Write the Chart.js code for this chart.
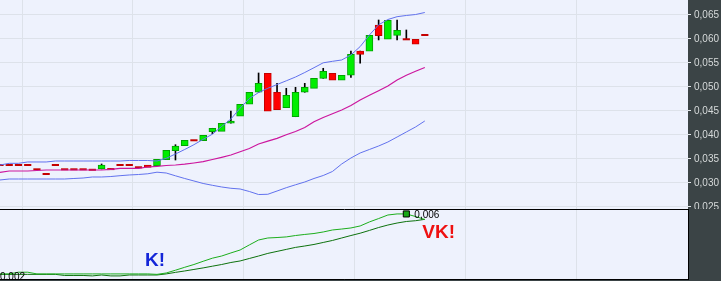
<!DOCTYPE html>
<html><head><meta charset="utf-8">
<script src="https://cdn.jsdelivr.net/npm/chart.js@4.4.0/dist/chart.umd.min.js"></script>
<style>
html,body{margin:0;padding:0;background:#3b4446;}
#wrap{position:relative;width:721px;height:281px;background:#3b4446;overflow:hidden;}
#top{position:absolute;left:0;top:0;width:721px;height:209px;}
#bot{position:absolute;left:0;top:209px;width:721px;height:72px;}
</style></head><body>
<div id="wrap"><canvas id="top" width="721" height="209"></canvas><canvas id="bot" width="721" height="72"></canvas></div>
<script>
// ---- data ----
const open  = [0.03375,0.03375,0.03375,0.03375,0.03285,0.03188,0.03375,0.03285,0.03285,0.03285,0.03275,0.03292,0.0329,0.03375,0.03375,0.03327,0.03375,0.0336,0.03486,0.03673,0.03777,0.0389,0.03881,0.04069,0.04077,0.04244,0.0439,0.0464,0.0489,0.05286,0.0489,0.04569,0.04381,0.0489,0.04973,0.05181,0.05286,0.0514,0.05244,0.0575,0.05744,0.06292,0.05994,0.06077,0.05994,0.05994,0.06083];
const high  = [0.03375,0.03375,0.03375,0.03375,0.03285,0.03188,0.03375,0.03285,0.03285,0.03285,0.03275,0.03396,0.0329,0.03375,0.03375,0.03327,0.03375,0.03494,0.03681,0.03798,0.03889,0.0389,0.03994,0.0414,0.04244,0.045,0.0464,0.0489,0.05292,0.05286,0.05077,0.04973,0.04994,0.05077,0.05181,0.0539,0.05286,0.05244,0.0575,0.0575,0.06077,0.06396,0.0639,0.06396,0.06188,0.05994,0.06083];
const low   = [0.03375,0.03375,0.03375,0.03375,0.03285,0.03188,0.03375,0.03285,0.03285,0.03285,0.03275,0.03292,0.0329,0.03375,0.03375,0.03327,0.03323,0.0336,0.03486,0.03479,0.03777,0.0389,0.03881,0.04027,0.04077,0.04244,0.0439,0.0464,0.0489,0.04494,0.04527,0.04569,0.04381,0.0489,0.04973,0.05181,0.0514,0.0514,0.052,0.05494,0.05744,0.0598,0.05994,0.0598,0.05994,0.0589,0.06083];
const close = [0.03375,0.03375,0.03375,0.03375,0.03285,0.03188,0.03375,0.03285,0.03285,0.03285,0.03275,0.03375,0.0329,0.03375,0.03375,0.03327,0.03323,0.03494,0.03681,0.03771,0.03889,0.0389,0.03994,0.0414,0.04244,0.04292,0.0464,0.0489,0.05077,0.04494,0.04527,0.04827,0.0489,0.04994,0.05181,0.05327,0.0514,0.05244,0.05681,0.05681,0.06077,0.06069,0.0639,0.06181,0.05994,0.0589,0.06083];

const bbUpper  = [0.03375,0.0341,0.0341,0.03438,0.03438,0.03438,0.03458,0.03458,0.03458,0.03458,0.03458,0.03458,0.03458,0.03458,0.03469,0.03469,0.03469,0.03458,0.03515,0.03604,0.03698,0.03798,0.0391,0.04017,0.04177,0.04333,0.04558,0.0476,0.04885,0.04973,0.05052,0.05129,0.05208,0.05302,0.05402,0.05504,0.05535,0.05563,0.05667,0.05842,0.06083,0.06296,0.06406,0.06465,0.0649,0.0651,0.06552];
const bbMiddle = [0.03223,0.0325,0.0325,0.0325,0.0326,0.03271,0.03271,0.03271,0.03271,0.03271,0.03271,0.03271,0.03285,0.03306,0.03306,0.03306,0.03333,0.03348,0.03365,0.03375,0.03392,0.03417,0.03444,0.0349,0.03535,0.03583,0.03652,0.03719,0.03813,0.03871,0.03931,0.04004,0.04073,0.04156,0.04277,0.04365,0.04442,0.04521,0.04615,0.04729,0.04827,0.04923,0.05021,0.05146,0.05244,0.05327,0.05406];
const bbLower  = [0.03063,0.03083,0.03083,0.03083,0.03083,0.03083,0.03083,0.03083,0.03094,0.03104,0.03125,0.03125,0.03135,0.03152,0.03167,0.03177,0.03192,0.03225,0.03208,0.0315,0.03094,0.03042,0.0299,0.02952,0.02917,0.0289,0.02875,0.02823,0.0276,0.02765,0.02833,0.02902,0.02963,0.03021,0.03094,0.03156,0.0324,0.03396,0.03521,0.03625,0.03698,0.03771,0.03854,0.03958,0.04063,0.04167,0.04292];

const indFast = [0.00219,0.00219,0.0023,0.0023,0.00219,0.00219,0.00219,0.00219,0.00219,0.00219,0.00219,0.00219,0.00219,0.00219,0.00219,0.00219,0.00219,0.00216,0.00225,0.00243,0.00262,0.0028,0.00301,0.00321,0.00335,0.00355,0.00374,0.00407,0.00439,0.00452,0.00455,0.00459,0.00468,0.00475,0.00481,0.00491,0.00504,0.0051,0.00517,0.0053,0.00556,0.00578,0.00601,0.00608,0.00608,0.00591,0.00572];
const indSlow = [0.00216,0.00216,0.00216,0.00216,0.00216,0.00216,0.00216,0.00209,0.00209,0.00209,0.00206,0.00212,0.00206,0.00206,0.00212,0.00212,0.00212,0.00212,0.00219,0.00229,0.00238,0.00248,0.00258,0.00269,0.0028,0.00293,0.00303,0.00319,0.00335,0.00352,0.00365,0.00378,0.00391,0.004,0.0041,0.00423,0.00436,0.00452,0.00468,0.00483,0.00501,0.0052,0.00536,0.00549,0.00559,0.00564,0.00573];

const priceTicks = [0.025,0.030,0.035,0.040,0.045,0.050,0.055,0.060,0.065];
const timeGrid   = [2.4,14.4,26.4,38.4,50.4,62.4];
const markerIdx  = 44;
const signals = [
  {text:'K!',  x:16.8, y:0.00306, color:'#1426d8'},
  {text:'VK!', x:47.5, y:0.00488, color:'#ee1111'}
];
const bottomAxisLabel = '0,002';

// ---- style ----
const FONT = "'Liberation Sans', Arial, sans-serif";
const PLOT_BG = '#eef2fd', GRID = '#dde2ea';
const GREEN='#00ee00', GREEN_B='#00a400', RED='#ff0000', RED_B='#c40000';
const fmt = v => v.toFixed(3).replace('.', ',');
const idx = open.map((_, i) => i);

const bgPlugin = {id:'bg', beforeDraw(c){const a=c.chartArea, x=c.ctx; x.save(); x.fillStyle=PLOT_BG; x.fillRect(a.left,a.top,a.right-a.left,a.bottom-a.top); x.restore();}};

const xScale = () => ({
  type:'linear', min:0, max:74.5, offset:false, display:true,
  grid:{color:GRID, drawTicks:false, offset:false, lineWidth:1},
  border:{display:false}, ticks:{display:false},
  afterBuildTicks: s => { s.ticks = timeGrid.map(v => ({value:v})); },
  afterFit: s => { s.height = 0; s.paddingLeft = 0; s.paddingRight = 0; }
});

const bodies = idx.filter(i => open[i] !== close[i]);
const dojis  = idx.filter(i => open[i] === close[i]);
const wicks  = idx.filter(i => high[i] > Math.max(open[i], close[i]) || low[i] < Math.min(open[i], close[i]));

new Chart(document.getElementById('top'), {
  type:'bar',
  data:{datasets:[
    {type:'line', data:bbUpper.map((v,i)=>({x:i,y:v})), borderColor:'#6272ee', borderWidth:1, pointRadius:0, tension:0, order:0},
    {type:'line', data:bbLower.map((v,i)=>({x:i,y:v})), borderColor:'#6272ee', borderWidth:1, pointRadius:0, tension:0, order:0},
    {type:'line', data:bbMiddle.map((v,i)=>({x:i,y:v})), borderColor:'#cc169e', borderWidth:1.2, pointRadius:0, tension:0, order:0},
    {type:'bar', data:bodies.map(i=>({x:i,y:[open[i],close[i]]})),
      backgroundColor:bodies.map(i=>close[i]>open[i]?GREEN:RED),
      borderColor:bodies.map(i=>close[i]>open[i]?GREEN_B:RED_B),
      borderWidth:1, borderSkipped:false, barThickness:7, grouped:false, order:1},
    {type:'line', data:dojis.map(i=>({x:i,y:close[i]})), showLine:false, pointStyle:'line',
      pointRadius:3.6, pointBorderWidth:2, pointBorderColor:RED_B, pointBackgroundColor:RED_B, order:1},
    {type:'bar', data:wicks.map(i=>({x:i,y:[low[i],high[i]]})), backgroundColor:'#000', borderWidth:0,
      barThickness:1, grouped:false, order:2}
  ]},
  options:{
    responsive:false, animation:false, devicePixelRatio:1, events:[],
    layout:{padding:0, autoPadding:false},
    plugins:{legend:{display:false}, tooltip:{enabled:false}},
    scales:{
      x: xScale(),
      y:{type:'linear', position:'right', min:0.024583, max:0.068125,
        grid:{color:GRID, tickLength:3, tickColor:'#e4e8ec', lineWidth:1},
        border:{display:false},
        ticks:{color:'#d6dada', padding:3, font:{size:10, family:FONT}, callback:v=>fmt(v), autoSkip:false},
        afterBuildTicks: s => { s.ticks = priceTicks.map(v => ({value:v})); },
        afterFit: s => { s.width = 33; s.paddingTop = 0; s.paddingBottom = 0; }
      }
    }
  },
  plugins:[bgPlugin]
});

const decoPlugin = {id:'deco',
  afterDatasetsDraw(c){
    const {ctx, chartArea:a, scales:{x, y}} = c;
    ctx.save();
    const px = x.getPixelForValue(markerIdx), py = y.getPixelForValue(indFast[markerIdx]);
    ctx.fillStyle = '#000'; ctx.font = '10px ' + FONT; ctx.textBaseline = 'middle'; ctx.textAlign = 'left';
    ctx.fillText(fmt(indFast[markerIdx]), px + 8, py + 1);
    ctx.font = 'bold 19px ' + FONT; ctx.textAlign = 'center';
    signals.forEach(s => { ctx.fillStyle = s.color; ctx.fillText(s.text, x.getPixelForValue(s.x), y.getPixelForValue(s.y)); });
    ctx.beginPath(); ctx.rect(a.left, a.top, a.right - a.left, a.bottom - a.top); ctx.clip();
    ctx.font = '10px ' + FONT; ctx.fillStyle = '#000'; ctx.textAlign = 'left'; ctx.textBaseline = 'top';
    ctx.fillText(bottomAxisLabel, a.left, a.bottom - 7);
    ctx.restore();
  },
  afterDraw(c){
    const {ctx, chartArea:a} = c;
    ctx.save(); ctx.strokeStyle = '#000'; ctx.lineWidth = 1; ctx.beginPath();
    ctx.moveTo(a.left, a.top + 0.5); ctx.lineTo(a.right + 1, a.top + 0.5);
    ctx.moveTo(a.right + 0.5, a.top); ctx.lineTo(a.right + 0.5, a.bottom + 1);
    ctx.moveTo(a.left, a.bottom + 0.5); ctx.lineTo(a.right + 1, a.bottom + 0.5);
    ctx.stroke(); ctx.restore();
  }
};

new Chart(document.getElementById('bot'), {
  type:'line',
  data:{datasets:[
    {data:indFast.map((v,i)=>({x:i,y:v})), borderColor:'#1cae1c', borderWidth:1, tension:0,
      pointStyle:'rect', pointRadius:c=>c.dataIndex===markerIdx?4.3:0,
      pointBackgroundColor:'#16a816', pointBorderColor:'#000', pointBorderWidth:1, order:0},
    {data:indSlow.map((v,i)=>({x:i,y:v})), borderColor:'#0d720d', borderWidth:1, tension:0, pointRadius:0, order:1}
  ]},
  options:{
    responsive:false, animation:false, devicePixelRatio:1, events:[],
    layout:{padding:{bottom:2}, autoPadding:false},
    plugins:{legend:{display:false}, tooltip:{enabled:false}},
    scales:{
      x: xScale(),
      y:{type:'linear', position:'right', min:0.00186, max:0.0064,
        grid:{display:false}, border:{display:false}, ticks:{display:false},
        afterFit: s => { s.width = 33; s.paddingTop = 0; s.paddingBottom = 0; }
      }
    }
  },
  plugins:[bgPlugin, decoPlugin]
});
</script>
</body></html>
